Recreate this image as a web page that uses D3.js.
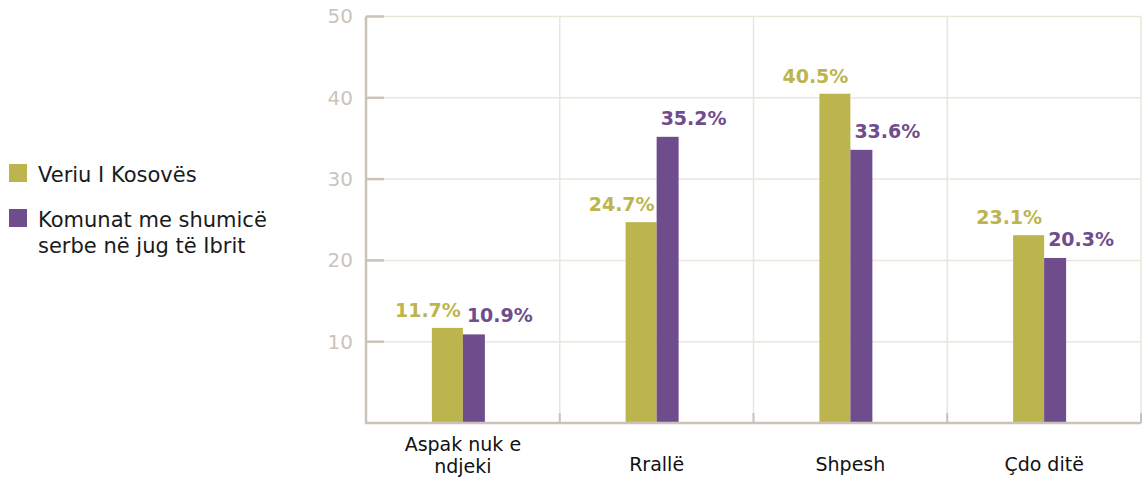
<!DOCTYPE html>
<html>
<head>
<meta charset="utf-8">
<script src="https://cdn.jsdelivr.net/npm/d3@7"></script>
<style>
  body { margin: 0; background: #fff; }
  svg { display: block; font-family: "DejaVu Sans", sans-serif; }
</style>
</head>
<body>
<div id="chart"></div>
<script>
// data
var categories = [['Aspak nuk e', 'ndjeki'], ['Rrallë'], ['Shpesh'], ['Çdo ditë']];
var seriesNames = ['Veriu I Kosovës', 'Komunat me shumicë serbe në jug të Ibrit'];
var veriu = [11.7, 24.7, 40.5, 23.1];
var komunat = [10.9, 35.2, 33.6, 20.3];
var yTicks = [10, 20, 30, 40, 50];

var olive = '#bcb54e',
    purple = '#6f4d8d',
    axisColor = '#cbc3ba',
    gridColor = '#ece6da';

var W = 1142, H = 479;
var margin = { top: 16.5, left: 366, right: 1, bottom: 56 },
    width = W - margin.left - margin.right,
    height = H - margin.top - margin.bottom;

var svg = d3.select('#chart').append('svg')
    .attr('width', W)
    .attr('height', H);

var g = svg.append('g')
    .attr('transform', 'translate(' + margin.left + ',' + margin.top + ')');

var keys = categories.map(function(c) { return c.join(' '); });

var x = d3.scaleBand()
    .domain(keys)
    .range([0, width])
    .padding(0);

var y = d3.scaleLinear()
    .domain([0, 50])
    .range([height, 0]);

// horizontal grid
g.append('g')
    .selectAll('line')
    .data(yTicks)
    .enter()
    .append('line')
    .attr('x1', 0)
    .attr('x2', width)
    .attr('y1', function(d) { return y(d); })
    .attr('y2', function(d) { return y(d); })
    .attr('stroke', gridColor)
    .attr('stroke-width', 1.5);

// vertical grid at category boundaries
var bounds = keys.slice(1).map(function(k) { return x(k); }).concat([width]);
g.append('g')
    .selectAll('line')
    .data(bounds)
    .enter()
    .append('line')
    .attr('x1', function(d) { return d; })
    .attr('x2', function(d) { return d; })
    .attr('y1', 0)
    .attr('y2', height)
    .attr('stroke', gridColor)
    .attr('stroke-width', 1.5);

// small ticks on the bottom axis
g.append('g')
    .selectAll('line')
    .data(bounds)
    .enter()
    .append('line')
    .attr('x1', function(d) { return d; })
    .attr('x2', function(d) { return d; })
    .attr('y1', height - 10)
    .attr('y2', height)
    .attr('stroke', axisColor)
    .attr('stroke-width', 2);

// y axis labels
var yAxis = g.append('g')
    .call(d3.axisLeft(y).tickValues(yTicks).tickSize(0).tickPadding(13));
yAxis.select('.domain').remove();
yAxis.selectAll('text')
    .attr('fill', '#cbc4bc')
    .style('font-size', '20px')
    .style('font-family', '"DejaVu Sans", sans-serif');

// inner tick marks
g.append('g')
    .selectAll('line')
    .data(yTicks)
    .enter()
    .append('line')
    .attr('x1', 0)
    .attr('x2', 18)
    .attr('y1', function(d) { return y(d); })
    .attr('y2', function(d) { return y(d); })
    .attr('stroke', axisColor)
    .attr('stroke-width', 2.5);

// bars
var bw = x.bandwidth();
var oliveW = 31, purpleW = 22;

g.append('g')
    .selectAll('rect')
    .data(veriu)
    .enter()
    .append('rect')
    .attr('x', function(d, i) { return x(keys[i]) + bw / 2 - oliveW; })
    .attr('y', function(d) { return y(d); })
    .attr('width', oliveW)
    .attr('height', function(d) { return height - y(d); })
    .attr('fill', olive);

g.append('g')
    .selectAll('rect')
    .data(komunat)
    .enter()
    .append('rect')
    .attr('x', function(d, i) { return x(keys[i]) + bw / 2; })
    .attr('y', function(d) { return y(d); })
    .attr('width', purpleW)
    .attr('height', function(d) { return height - y(d); })
    .attr('fill', purple);

// value labels
g.append('g')
    .selectAll('text')
    .data(veriu)
    .enter()
    .append('text')
    .attr('x', function(d, i) { return x(keys[i]) + bw / 2 - 2; })
    .attr('y', function(d) { return y(d) - 11; })
    .attr('text-anchor', 'end')
    .attr('fill', olive)
    .style('font-size', '19px')
    .style('font-weight', 'bold')
    .text(function(d) { return d.toFixed(1) + '%'; });

g.append('g')
    .selectAll('text')
    .data(komunat)
    .enter()
    .append('text')
    .attr('x', function(d, i) { return x(keys[i]) + bw / 2 + 4; })
    .attr('y', function(d) { return y(d) - 12; })
    .attr('text-anchor', 'start')
    .attr('fill', purple)
    .style('font-size', '19px')
    .style('font-weight', 'bold')
    .text(function(d) { return d.toFixed(1) + '%'; });

// axis lines
g.append('line')
    .attr('x1', 0).attr('x2', 0)
    .attr('y1', 0).attr('y2', height)
    .attr('stroke', axisColor)
    .attr('stroke-width', 2.5);
g.append('line')
    .attr('x1', -1).attr('x2', width)
    .attr('y1', height).attr('y2', height)
    .attr('stroke', axisColor)
    .attr('stroke-width', 2.5);

// category labels
var catLabels = g.append('g')
    .selectAll('text')
    .data(categories)
    .enter()
    .append('text')
    .attr('x', function(d, i) { return x(keys[i]) + bw / 2; })
    .attr('y', function(d) { return d.length > 1 ? height + 28 : height + 48; })
    .attr('text-anchor', 'middle')
    .attr('fill', '#111')
    .style('font-size', '19px');
catLabels.selectAll('tspan')
    .data(function(d) { return d; })
    .enter()
    .append('tspan')
    .attr('x', function() { return d3.select(this.parentNode).attr('x'); })
    .attr('dy', function(d, i) { return i === 0 ? 0 : 22; })
    .text(function(d) { return d; });

// legend
var legend = svg.append('g');
var legendLines = [['Veriu I Kosovës'], ['Komunat me shumicë', 'serbe në jug të Ibrit']];
var legendTop = [164, 209];
var colors = [olive, purple];

seriesNames.forEach(function(name, i) {
    legend.append('rect')
        .attr('x', 9)
        .attr('y', legendTop[i])
        .attr('width', 18)
        .attr('height', 18)
        .attr('fill', colors[i]);
    var t = legend.append('text')
        .attr('x', 38)
        .attr('y', legendTop[i] + 18)
        .attr('fill', '#1a1a1a')
        .style('font-size', '21px');
    legendLines[i].forEach(function(line, j) {
        t.append('tspan')
            .attr('x', 38)
            .attr('dy', j === 0 ? 0 : 26)
            .text(line);
    });
});
</script>
</body>
</html>
